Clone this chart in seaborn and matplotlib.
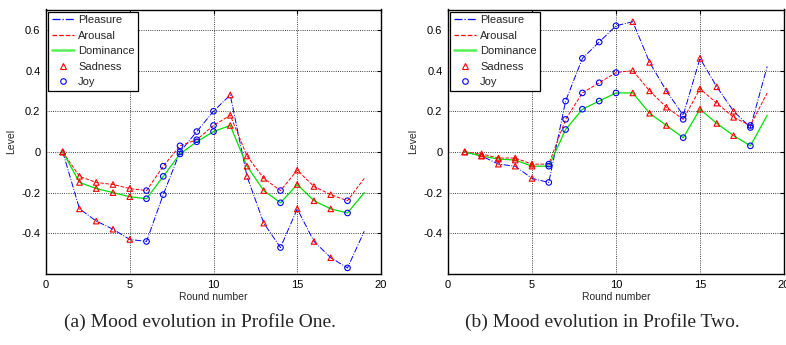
import numpy as np
import pandas as pd
import matplotlib
matplotlib.use("Agg")
import matplotlib.pyplot as plt
import seaborn as sns
from matplotlib.lines import Line2D

# --- data ---
rounds = list(range(1, 20))
# event that happened in each round (None = no marker)
events = ["Sadness"] * 5 + ["Joy"] * 5 + ["Sadness"] * 3 + ["Joy"] + ["Sadness"] * 3 + ["Joy"] + [None]

p1_pleasure = [0, -0.28, -0.34, -0.38, -0.43, -0.44, -0.21, 0.00, 0.10, 0.20,
               0.28, -0.12, -0.35, -0.47, -0.28, -0.44, -0.52, -0.57, -0.39]
p1_arousal = [0, -0.12, -0.15, -0.16, -0.18, -0.19, -0.07, 0.03, 0.06, 0.13,
              0.18, -0.02, -0.13, -0.19, -0.09, -0.17, -0.21, -0.24, -0.13]
p1_dominance = [0, -0.15, -0.18, -0.20, -0.22, -0.23, -0.12, -0.01, 0.05, 0.10,
                0.13, -0.07, -0.19, -0.25, -0.16, -0.24, -0.28, -0.30, -0.20]

p2_pleasure = [0, -0.02, -0.06, -0.07, -0.13, -0.15, 0.25, 0.46, 0.54, 0.62,
               0.64, 0.44, 0.30, 0.18, 0.46, 0.32, 0.20, 0.12, 0.42]
p2_arousal = [0, -0.01, -0.03, -0.03, -0.06, -0.06, 0.16, 0.29, 0.34, 0.39,
              0.40, 0.30, 0.22, 0.16, 0.31, 0.24, 0.17, 0.13, 0.29]
p2_dominance = [0, -0.02, -0.035, -0.04, -0.07, -0.07, 0.11, 0.21, 0.25, 0.29,
                0.29, 0.19, 0.13, 0.07, 0.21, 0.14, 0.08, 0.03, 0.18]

captions = ["(a) Mood evolution in Profile One.", "(b) Mood evolution in Profile Two."]

sns.set_style("white")
plt.rcParams.update({
    "font.family": ["Liberation Sans", "DejaVu Sans"],
    "font.size": 8,
    "axes.linewidth": 1.0,
    "axes.edgecolor": "black",
    "xtick.direction": "in",
    "ytick.direction": "in",
    "xtick.major.size": 3,
    "ytick.major.size": 3,
    "xtick.color": "black",
    "ytick.color": "black",
})

BLUE = "#0000ff"
RED = "#ff0000"
GREEN = "#00e000"

line_styles = {
    "Pleasure": dict(color=BLUE, linestyle="-.", linewidth=0.7),
    "Arousal": dict(color=RED, linestyle="--", linewidth=0.7),
    "Dominance": dict(color=GREEN, linestyle="-", linewidth=0.9),
}
marker_styles = {
    "Sadness": dict(marker="^", edgecolor=RED),
    "Joy": dict(marker="o", edgecolor=BLUE),
}

fig = plt.figure(figsize=(7.86, 3.45), dpi=100)
ax_left = fig.add_axes([46 / 786, 1 - 274 / 345, 335 / 786, 264.5 / 345])
ax_right = fig.add_axes([448 / 786, 1 - 274 / 345, 336 / 786, 264.5 / 345])

panels = [
    (ax_left, {"Pleasure": p1_pleasure, "Arousal": p1_arousal, "Dominance": p1_dominance}),
    (ax_right, {"Pleasure": p2_pleasure, "Arousal": p2_arousal, "Dominance": p2_dominance}),
]

for ax, series in panels:
    for name, vals in series.items():
        sns.lineplot(x=rounds, y=vals, ax=ax, **line_styles[name])
    # event markers on every dimension line
    for name, vals in series.items():
        df = pd.DataFrame({"round": rounds, "value": vals, "event": events}).dropna()
        for ev, sty in marker_styles.items():
            sub = df[df["event"] == ev]
            sns.scatterplot(data=sub, x="round", y="value", ax=ax, s=16,
                            marker=sty["marker"], facecolor="none",
                            edgecolor=sty["edgecolor"], linewidth=0.8, zorder=3)

    ax.set_xlim(0, 20)
    ax.set_ylim(-0.6, 0.7)
    ax.set_xticks([0, 5, 10, 15, 20])
    ax.set_yticks([-0.4, -0.2, 0, 0.2, 0.4, 0.6])
    ax.set_yticklabels(["-0.4", "-0.2", "0", "0.2", "0.4", "0.6"])
    ax.tick_params(top=True, right=True, labelsize=8, pad=4)
    ax.grid(True, color="black", linestyle=":", linewidth=0.6)
    ax.set_xlabel("Round number", fontsize=7.5, labelpad=2)
    ax.set_ylabel("Level", fontsize=7.5, labelpad=4)
    for sp in ax.spines.values():
        sp.set_visible(True)
        sp.set_color("black")

    handles = [
        Line2D([0], [0], color=BLUE, linestyle="-.", linewidth=0.9, label="Pleasure"),
        Line2D([0], [0], color=RED, linestyle="--", linewidth=0.9, label="Arousal"),
        Line2D([0], [0], color="#55ee55", linestyle="-", linewidth=1.8, label="Dominance"),
        Line2D([0], [0], linestyle="none", marker="^", markersize=4, markerfacecolor="none",
               markeredgecolor=RED, markeredgewidth=0.8, label="Sadness"),
        Line2D([0], [0], linestyle="none", marker="o", markersize=4, markerfacecolor="none",
               markeredgecolor=BLUE, markeredgewidth=0.8, label="Joy"),
    ]
    leg = ax.legend(handles=handles, loc="upper left", fontsize=8, fancybox=False,
                    framealpha=1, edgecolor="black", borderaxespad=0.2, borderpad=0.3,
                    handlelength=2.0, handletextpad=0.4, labelspacing=0.5)
    leg.get_frame().set_linewidth(0.9)

fig.text(200 / 786, 1 - 322 / 345, captions[0], ha="center", va="center",
         fontsize=14, family=["Liberation Serif", "DejaVu Serif"])
fig.text(602 / 786, 1 - 322 / 345, captions[1], ha="center", va="center",
         fontsize=14, family=["Liberation Serif", "DejaVu Serif"])

fig.savefig("out.png", dpi=100)
